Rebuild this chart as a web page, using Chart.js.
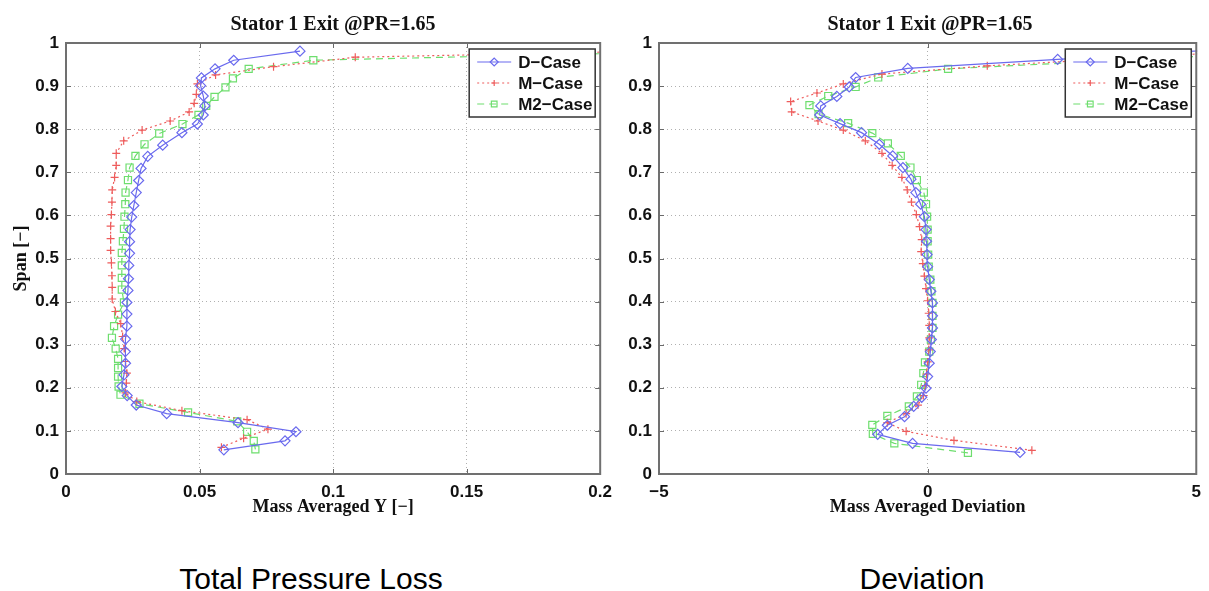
<!DOCTYPE html>
<html>
<head>
<meta charset="utf-8">
<script src="https://cdn.jsdelivr.net/npm/chart.js@4.4.1/dist/chart.umd.min.js"></script>
<style>
  html, body { margin: 0; padding: 0; background: #fff; }
  #page { position: relative; width: 1209px; height: 591px; overflow: hidden; background: #fff; }
  canvas { position: absolute; top: 0; }
  #lossChart { left: 0; }
  #devChart { left: 600px; }
  .title { position: absolute; top: 12px; line-height: 20px; font: bold 20px "Liberation Serif", "DejaVu Serif", serif; color: #111; white-space: nowrap; transform: translateX(-50%); }
  .caption { position: absolute; top: 562px; line-height: 30px; font: 30px "Liberation Sans", Arial, sans-serif; color: #000; white-space: nowrap; transform: translateX(-50%); }
</style>
</head>
<body>
<div id="page">
  <canvas id="lossChart" width="620" height="525"></canvas>
  <canvas id="devChart" width="609" height="525"></canvas>
  <div class="title" style="left:333px">Stator 1 Exit @PR=1.65</div>
  <div class="title" style="left:930px">Stator 1 Exit @PR=1.65</div>
  <div class="caption" style="left:311px">Total Pressure Loss</div>
  <div class="caption" style="left:922px">Deviation</div>
</div>
<script>
// ---- Mass averaged total pressure loss Y [-] against span ----
const lossSpanD = [0.056, 0.077, 0.098, 0.119, 0.140, 0.160, 0.182, 0.203, 0.230, 0.257,
                   0.284, 0.313, 0.343, 0.371, 0.398, 0.426, 0.453, 0.484, 0.512, 0.539,
                   0.567, 0.596, 0.623, 0.653, 0.681, 0.709, 0.737, 0.763, 0.792, 0.812,
                   0.833, 0.854, 0.877, 0.901, 0.919, 0.940, 0.960, 0.981];
const lossD = [0.0591, 0.0820, 0.0861, 0.0644, 0.0377, 0.0263, 0.0229, 0.0209, 0.0217, 0.0223,
               0.0222, 0.0223, 0.0228, 0.0228, 0.0228, 0.0232, 0.0234, 0.0235, 0.0238, 0.0238,
               0.0240, 0.0246, 0.0254, 0.0263, 0.0272, 0.0281, 0.0306, 0.0362, 0.0434, 0.0492,
               0.0514, 0.0520, 0.0514, 0.0504, 0.0507, 0.0558, 0.0628, 0.0876];

const lossSpanM = [0.062, 0.083, 0.104, 0.126, 0.147, 0.168, 0.188, 0.211, 0.234, 0.261,
                   0.291, 0.319, 0.349, 0.377, 0.406, 0.433, 0.460, 0.490, 0.519, 0.546,
                   0.575, 0.602, 0.631, 0.659, 0.688, 0.716, 0.744, 0.773, 0.798, 0.819,
                   0.840, 0.860, 0.881, 0.905, 0.926, 0.945, 0.967, 0.985];
const lossM = [0.0582, 0.0665, 0.0756, 0.0678, 0.0434, 0.0265, 0.0223, 0.0226, 0.0228, 0.0223,
               0.0218, 0.0212, 0.0205, 0.0185, 0.0173, 0.0173, 0.0172, 0.0170, 0.0167, 0.0167,
               0.0167, 0.0170, 0.0172, 0.0173, 0.0182, 0.0188, 0.0188, 0.0216, 0.0285, 0.0390,
               0.0461, 0.0480, 0.0488, 0.0492, 0.0560, 0.0777, 0.1083, 0.2500];

const lossSpanM2 = [0.057, 0.077, 0.098, 0.122, 0.143, 0.163, 0.184, 0.203, 0.226, 0.246,
                    0.267, 0.291, 0.316, 0.343, 0.370, 0.398, 0.428, 0.455, 0.484, 0.513,
                    0.540, 0.569, 0.597, 0.626, 0.653, 0.682, 0.711, 0.738, 0.765, 0.790,
                    0.812, 0.833, 0.854, 0.875, 0.897, 0.918, 0.940, 0.960, 0.985];
const lossM2 = [0.0709, 0.0703, 0.0678, 0.0641, 0.0457, 0.0275, 0.0204, 0.0197, 0.0195, 0.0195,
                0.0195, 0.0186, 0.0172, 0.0180, 0.0195, 0.0217, 0.0209, 0.0209, 0.0209, 0.0209,
                0.0213, 0.0217, 0.0219, 0.0222, 0.0223, 0.0232, 0.0238, 0.0260, 0.0294, 0.0349,
                0.0436, 0.0496, 0.0525, 0.0556, 0.0597, 0.0625, 0.0684, 0.0926, 0.2700];

// ---- Mass averaged deviation [deg] against span ----
const devSpanD = [0.050, 0.071, 0.092, 0.113, 0.133, 0.157, 0.178, 0.199, 0.226, 0.257,
                  0.284, 0.312, 0.339, 0.367, 0.397, 0.424, 0.451, 0.481, 0.509, 0.540,
                  0.567, 0.597, 0.626, 0.653, 0.684, 0.711, 0.738, 0.765, 0.792, 0.813,
                  0.833, 0.854, 0.876, 0.898, 0.920, 0.941, 0.962, 0.985];
const devD = [1.72, -0.28, -0.93, -0.75, -0.43, -0.26, -0.11, -0.03, 0.00, 0.03,
              0.05, 0.07, 0.09, 0.09, 0.09, 0.06, 0.03, 0.00, -0.01, -0.02,
              -0.03, -0.06, -0.13, -0.22, -0.31, -0.46, -0.65, -0.90, -1.23, -1.63,
              -2.01, -1.99, -1.69, -1.46, -1.34, -0.37, 2.42, 5.50];

const devSpanM = [0.055, 0.078, 0.099, 0.119, 0.140, 0.160, 0.182, 0.205, 0.232, 0.260,
                  0.288, 0.316, 0.345, 0.373, 0.402, 0.430, 0.459, 0.488, 0.516, 0.544,
                  0.574, 0.602, 0.631, 0.659, 0.688, 0.716, 0.744, 0.773, 0.798, 0.819,
                  0.840, 0.864, 0.884, 0.905, 0.928, 0.947, 0.985];
const devM = [1.94, 0.49, -0.40, -0.75, -0.40, -0.18, -0.08, -0.04, -0.02, 0.00,
              0.02, 0.03, 0.03, 0.02, 0.00, -0.03, -0.06, -0.09, -0.12, -0.11,
              -0.15, -0.21, -0.30, -0.38, -0.48, -0.66, -0.85, -1.16, -1.57, -2.04,
              -2.53, -2.55, -2.06, -1.57, -0.85, 1.11, 6.50];

const devSpanM2 = [0.049, 0.071, 0.093, 0.114, 0.135, 0.157, 0.180, 0.207, 0.234, 0.259,
                   0.284, 0.312, 0.339, 0.367, 0.397, 0.424, 0.451, 0.481, 0.509, 0.540,
                   0.567, 0.597, 0.626, 0.653, 0.682, 0.711, 0.738, 0.767, 0.791, 0.814,
                   0.835, 0.856, 0.877, 0.898, 0.920, 0.940, 0.975];
const devM2 = [0.75, -0.62, -1.02, -1.03, -0.75, -0.35, -0.20, -0.12, -0.08, -0.05,
               0.03, 0.06, 0.09, 0.09, 0.09, 0.07, 0.05, 0.02, 0.01, 0.00,
               0.00, -0.01, -0.03, -0.07, -0.20, -0.32, -0.50, -0.74, -1.03, -1.48,
               -2.03, -2.20, -1.85, -1.34, -0.92, 0.38, 6.00];

// ---- Axis ticks and labels ----
const spanTicks = [0, 0.1, 0.2, 0.3, 0.4, 0.5, 0.6, 0.7, 0.8, 0.9, 1];
const lossTicks = [0, 0.05, 0.1, 0.15, 0.2];
const devTicks = [-5, 0, 5];
const caseNames = ['D\u2212Case', 'M\u2212Case', 'M2\u2212Case'];

const TICK_FONT = { family: '"Liberation Sans", Arial, sans-serif', size: 17, weight: 'bold' };
const AXIS_FONT = { family: '"Liberation Serif", "Times New Roman", serif', size: 18, weight: 'bold' };

const caseStyles = [
  { color: '#6a6aee', pointStyle: 'rectRot', radius: 5, dash: [] },
  { color: '#ee5c5c', pointStyle: 'cross', radius: 4, dash: [2, 3] },
  { color: '#6ede6e', pointStyle: 'rect', radius: 5, dash: [7, 5] }
];

function pairs(xs, ys) {
  return xs.map((v, i) => ({ x: v, y: ys[i] }));
}

function buildDatasets(series) {
  return series.map((s, i) => {
    const st = caseStyles[i];
    return {
      label: caseNames[i],
      data: pairs(s[0], s[1]),
      showLine: true,
      borderColor: st.color,
      backgroundColor: 'rgba(0,0,0,0)',
      borderWidth: 1.2,
      borderDash: st.dash,
      pointStyle: st.pointStyle,
      pointRadius: st.radius,
      pointBorderColor: st.color,
      pointBackgroundColor: 'rgba(0,0,0,0)',
      pointBorderWidth: 1.2,
      tension: 0,
      clip: 1
    };
  });
}

function fmtNumber(v) {
  const s = String(Math.round(v * 1000) / 1000);
  return s.replace('-', '\u2212');
}

// box frame with inward tick marks, drawn over the data
const framePlugin = {
  id: 'frame',
  afterDatasetsDraw(chart) {
    const { ctx, chartArea: a, scales } = chart;
    const x = scales.x, y = scales.y;
    ctx.save();
    ctx.strokeStyle = '#6a6a6a';
    ctx.lineWidth = 1;
    ctx.beginPath();
    x.ticks.forEach(t => {
      const px = Math.round(x.getPixelForValue(t.value)) + 0.5;
      ctx.moveTo(px, a.bottom); ctx.lineTo(px, a.bottom - 5);
      ctx.moveTo(px, a.top); ctx.lineTo(px, a.top + 5);
    });
    y.ticks.forEach(t => {
      const py = Math.round(y.getPixelForValue(t.value)) + 0.5;
      ctx.moveTo(a.left, py); ctx.lineTo(a.left + 5, py);
      ctx.moveTo(a.right, py); ctx.lineTo(a.right - 5, py);
    });
    ctx.stroke();
    ctx.lineWidth = 2;
    ctx.strokeStyle = '#707070';
    ctx.strokeRect(a.left, a.top, a.right - a.left, a.bottom - a.top);
    ctx.restore();
  }
};

// boxed legend in the upper right corner of the plot area
const caseLegend = {
  id: 'caseLegend',
  afterDraw(chart) {
    const { ctx, chartArea: a } = chart;
    const w = 126, h = 68;
    const left = a.right - 5 - w, top = a.top + 6;
    ctx.save();
    ctx.fillStyle = '#fff';
    ctx.fillRect(left, top, w, h);
    ctx.strokeStyle = '#333';
    ctx.lineWidth = 1.5;
    ctx.strokeRect(left, top, w, h);
    chart.data.datasets.forEach((ds, i) => {
      const cy = top + 13 + i * 21;
      ctx.strokeStyle = ds.borderColor;
      ctx.lineWidth = ds.borderWidth;
      ctx.setLineDash(ds.borderDash || []);
      ctx.beginPath();
      ctx.moveTo(left + 8, cy);
      ctx.lineTo(left + 42, cy);
      ctx.stroke();
      ctx.setLineDash([]);
      ctx.fillStyle = 'rgba(0,0,0,0)';
      ctx.lineWidth = ds.pointBorderWidth;
      Chart.helpers.drawPoint(ctx, { pointStyle: ds.pointStyle, radius: ds.pointRadius - 1, borderWidth: 1, rotation: 0 }, left + 25, cy);
      ctx.fillStyle = '#111';
      ctx.font = 'bold 17px "Liberation Sans", Arial, sans-serif';
      ctx.textBaseline = 'middle';
      ctx.textAlign = 'left';
      ctx.fillText(ds.label, left + 49, cy + 1);
    });
    ctx.restore();
  }
};

function makeChart(id, cfg) {
  return new Chart(document.getElementById(id), {
    type: 'scatter',
    data: { datasets: buildDatasets(cfg.series) },
    options: {
      responsive: false,
      animation: false,
      events: [],
      layout: { padding: { top: 43, right: cfg.padRight, left: 0, bottom: 0 } },
      plugins: {
        legend: { display: false },
        tooltip: { enabled: false },
        title: { display: false }
      },
      scales: {
        x: {
          type: 'linear',
          min: cfg.xTicks[0],
          max: cfg.xTicks[cfg.xTicks.length - 1],
          afterBuildTicks: s => { s.ticks = cfg.xTicks.map(v => ({ value: v })); },
          afterFit: s => { s.height = 51; },
          grid: { color: '#b0b0b0', lineWidth: 1, drawTicks: false },
          border: { display: false, dash: [1, 3] },
          ticks: { padding: 8, color: '#111', font: TICK_FONT, autoSkip: false, maxRotation: 0, callback: v => fmtNumber(v) },
          title: { display: true, text: cfg.xTitle, color: '#111', font: AXIS_FONT, padding: { top: 0, bottom: 7 } }
        },
        y: {
          type: 'linear',
          min: 0,
          max: 1,
          afterBuildTicks: s => { s.ticks = spanTicks.map(v => ({ value: v })); },
          afterFit: s => { s.width = cfg.yWidth; },
          grid: { color: '#b0b0b0', lineWidth: 1, drawTicks: false },
          border: { display: false, dash: [1, 3] },
          ticks: { padding: 7, color: '#111', font: TICK_FONT, autoSkip: false, callback: v => fmtNumber(v) },
          title: { display: !!cfg.yTitle, text: cfg.yTitle || '', color: '#111', font: AXIS_FONT, padding: { top: 11, bottom: 0 } }
        }
      }
    },
    plugins: [framePlugin, caseLegend]
  });
}

makeChart('lossChart', {
  series: [[lossD, lossSpanD], [lossM, lossSpanM], [lossM2, lossSpanM2]],
  xTicks: lossTicks,
  xTitle: 'Mass Averaged Y [\u2212]',
  yTitle: 'Span [\u2212]',
  yWidth: 66,
  padRight: 16
});

makeChart('devChart', {
  series: [[devD, devSpanD], [devM, devSpanM], [devM2, devSpanM2]],
  xTicks: devTicks,
  xTitle: 'Mass Averaged Deviation',
  yWidth: 59,
  padRight: 8
});
</script>
</body>
</html>
